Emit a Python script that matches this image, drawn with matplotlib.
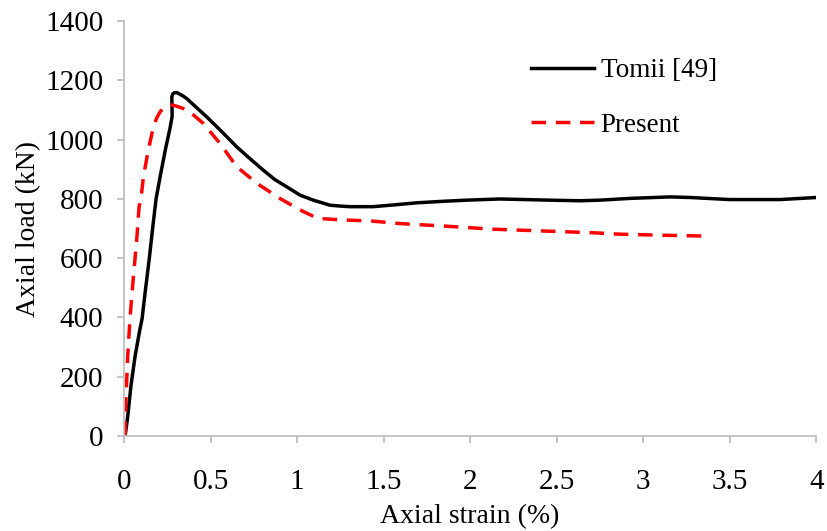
import matplotlib
matplotlib.use("Agg")
import matplotlib.pyplot as plt

# Tomii [49] experimental curve
tomii_strain = [0.006, 0.02, 0.04, 0.064, 0.09, 0.104, 0.125, 0.146, 0.165, 0.185,
                0.21, 0.24, 0.266, 0.278, 0.277, 0.276, 0.282, 0.292, 0.305, 0.318,
                0.34, 0.362, 0.42, 0.478, 0.56, 0.651, 0.73, 0.805, 0.87, 0.94,
                1.017, 1.094, 1.19, 1.25, 1.306, 1.44, 1.56, 1.69, 1.84, 1.98, 2.17,
                2.46, 2.636, 2.75, 2.925, 3.156, 3.27, 3.50, 3.79, 4.0]
tomii_load = [0, 60, 170, 270, 355, 395, 500, 600, 700, 800,
              880, 970, 1040, 1080, 1117, 1145, 1155, 1159, 1159, 1155,
              1148, 1139, 1108, 1077, 1030, 976, 935, 897, 866, 841,
              813, 796, 779, 776, 774, 774, 780, 787, 792, 796, 800,
              796, 794, 796, 802, 807, 805, 798, 798, 805]

# Present model
present_strain = [0.006, 0.01, 0.021, 0.035, 0.054, 0.073, 0.087, 0.098, 0.112, 0.14,
                  0.17, 0.19, 0.208, 0.23, 0.256, 0.28, 0.305, 0.34, 0.38, 0.458,
                  0.555, 0.651, 0.767, 0.90, 1.017, 1.11, 1.13, 1.27, 1.42, 1.595,
                  1.865, 2.13, 2.42, 2.71, 2.87, 3.01, 3.16, 3.34]
present_load = [0, 110, 268, 402, 537, 661, 774, 802, 875, 965,
                1044, 1075, 1094, 1108, 1117, 1117, 1113, 1106, 1094, 1055,
                987, 909, 853, 802, 763, 737, 734, 729, 726, 717,
                708, 698, 692, 686, 681, 679, 677, 675]

plt.rcParams['font.family'] = ['Liberation Serif', 'DejaVu Serif']

fig = plt.figure(figsize=(8.27, 5.31), dpi=100)
ax = fig.add_axes([0.150, 0.179, 0.837, 0.781])

ax.plot(tomii_strain, tomii_load, color='black', lw=2.5, label='Tomii [49]',
        solid_joinstyle='round')
ax.plot(present_strain, present_load, color='#FF0000', lw=2.5, dashes=(4.2, 2.8),
        label='Present')

ax.set_xlim(0, 4)
ax.set_ylim(0, 1400)
ax.set_xticks([0, 0.5, 1, 1.5, 2, 2.5, 3, 3.5, 4])
ax.set_xticklabels(['0', '0.5', '1', '1.5', '2', '2.5', '3', '3.5', '4'])
ax.set_yticks(range(0, 1401, 200))

for s in ['top', 'right']:
    ax.spines[s].set_visible(False)
for s in ['left', 'bottom']:
    ax.spines[s].set_color('#BFBFBF')
    ax.spines[s].set_linewidth(1.3)
ax.tick_params(axis='both', direction='out', length=5, width=1.3, color='#BFBFBF',
               labelcolor='black', labelsize=21)
ax.tick_params(axis='y', pad=10)
ax.tick_params(axis='x', pad=19)

ax.set_xlabel('Axial strain (%)', fontsize=20, labelpad=6)
ax.set_ylabel('Axial load (kN)', fontsize=20, labelpad=3)

ax.legend(loc='upper left', bbox_to_anchor=(0.552, 0.97), frameon=False,
          handlelength=2.33, handletextpad=0.26, labelspacing=1.1, fontsize=19.5)

fig.savefig('out.png', dpi=100)
